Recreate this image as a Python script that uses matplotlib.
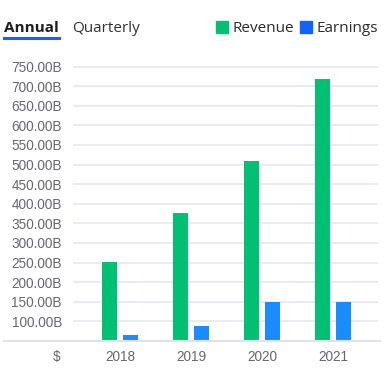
import numpy as np
import matplotlib
matplotlib.use("Agg")
import matplotlib.pyplot as plt
from matplotlib.lines import Line2D
from matplotlib.patches import Rectangle

# ----------------------------
# Data (billions)
# ----------------------------
years = ["2018", "2019", "2020", "2021"]
revenue = [250.27, 376.84, 509.71, 717.29]
earnings = [64.09, 87.60, 149.43, 150.58]
y_ticks = [100, 150, 200, 250, 300, 350, 400, 450, 500, 550, 600, 650, 700, 750]

GREEN = "#00c073"
BAR_BLUE = "#1a8cff"
LEG_BLUE = "#1462fe"
GRID = "#e6e8ee"
TICK = "#666870"

W, H = 387, 373
fig = plt.figure(figsize=(W / 100, H / 100), dpi=100)
fig.patch.set_facecolor("white")


def fx(px):
    return px / W


def fy(py):
    # py measured from top
    return 1 - py / H


ax_l, ax_r, ax_t, ax_b = 73, 378, 60.7, 341
ax = fig.add_axes([fx(ax_l), fy(ax_b), fx(ax_r - ax_l), (ax_b - ax_t) / H])

x = np.arange(len(years))
bw = 0.204
ax.bar(x - 0.148, revenue, width=bw, color=GREEN, zorder=3)
ax.bar(x + 0.148, earnings, width=bw, color=BAR_BLUE, zorder=3)

ax.set_ylim(50, 765)
ax.set_xlim(-0.662, 3.634)
for v in y_ticks:
    ax.axhline(v, color=GRID, lw=1.2, zorder=1)

FS = 9.8
ax.set_yticks(y_ticks)
ax.set_yticklabels([f"{v:.2f}B" for v in y_ticks])
ax.tick_params(axis="y", length=0, pad=8, labelsize=FS, labelcolor=TICK)
for lab in ax.get_yticklabels():
    lab.set_family(["Liberation Sans", "DejaVu Sans"])

ax.set_xticks(x)
ax.set_xticklabels(years)
ax.tick_params(axis="x", length=0, pad=6.5, labelsize=FS, labelcolor=TICK)
for lab in ax.get_xticklabels():
    lab.set_family(["Liberation Sans", "DejaVu Sans"])

for s in ax.spines.values():
    s.set_visible(False)

# baseline across the full width
fig.add_artist(Line2D([fx(4), fx(380)], [fy(341), fy(341)], color="#e0e3ea", lw=1.5))

fig.text(fx(57), fy(357), "$", ha="center", va="center", fontsize=FS,
         color=TICK, family=["Liberation Sans", "DejaVu Sans"])

# header: tabs
fig.text(fx(4), fy(28.5), "Annual", ha="left", va="center", fontsize=11,
         fontweight="bold", color="#1e1e1e", family=["Open Sans", "DejaVu Sans"])
fig.add_artist(Line2D([fx(4), fx(59)], [fy(37.5), fy(37.5)], color="#1462fe", lw=2.2))
fig.text(fx(72), fy(28.5), "Quarterly", ha="left", va="center", fontsize=11,
         color="#333333", family=["Open Sans", "DejaVu Sans"])

# legend
fig.add_artist(Rectangle((fx(216), fy(33)), fx(12), 12 / H, color=GREEN))
fig.text(fx(233), fy(28.5), "Revenue", ha="left", va="center", fontsize=11,
         color="#2b2b2b", family=["Open Sans", "DejaVu Sans"])
fig.add_artist(Rectangle((fx(300), fy(33)), fx(12), 12 / H, color=LEG_BLUE))
fig.text(fx(317), fy(28.5), "Earnings", ha="left", va="center", fontsize=11,
         color="#2b2b2b", family=["Open Sans", "DejaVu Sans"])

fig.savefig("out.png", dpi=100)
